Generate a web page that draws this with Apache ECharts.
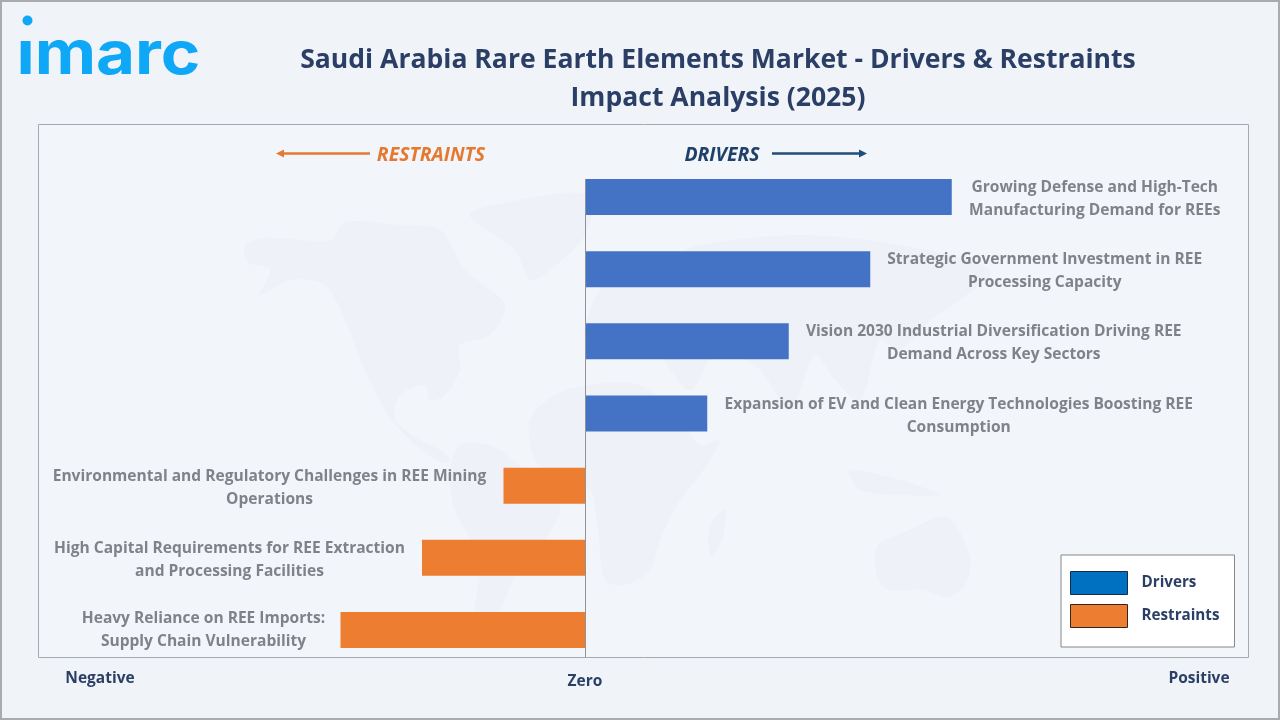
<!DOCTYPE html>
<html><head><meta charset="utf-8">
<style>html,body{margin:0;padding:0;background:#f0f4f9}#c{width:1280px;height:720px}</style>
<script src="https://cdn.jsdelivr.net/npm/echarts@6/dist/echarts.min.js"></script>
</head><body><div id="c"></div>
<script>
const categories = [
  "Growing Defense and High-Tech\nManufacturing Demand for REEs",
  "Strategic Government Investment in REE\nProcessing Capacity",
  "Vision 2030 Industrial Diversification Driving REE\nDemand Across Key Sectors",
  "Expansion of EV and Clean Energy Technologies Boosting REE\nConsumption",
  "Environmental and Regulatory Challenges in REE Mining\nOperations",
  "High Capital Requirements for REE Extraction\nand Processing Facilities",
  "Heavy Reliance on REE Imports:\nSupply Chain Vulnerability"
];
const drivers   = [4.5, 3.5, 2.5, 1.5, null, null, null];
const restraints = [null, null, null, null, -1, -2, -3];
const axisWords = ["Negative", "Zero", "Positive"];
const titleText = "Saudi Arabia Rare Earth Elements Market - Drivers & Restraints\nImpact Analysis (2025)";

const LABEL_FONT = 'Open Sans';
const LABEL_SIZE = 15.55;
const labelNudges = [[0,2],[0,2],[0,2],[0,3],[0,2],[0,2],[2,0]];
const measure = document.createElement('canvas').getContext('2d');
measure.font = '700 ' + LABEL_SIZE + 'px "' + LABEL_FONT + '"';
function labelFor(name, pos, nudge) {
  const lines = name.split('\n');
  const w = Math.ceil(Math.max(...lines.map(l => measure.measureText(l).width)));
  return {
    show: true, position: pos, distance: 17, offset: nudge,
    formatter: lines.map(l => '{a|' + l + '}').join('\n'),
    rich: { a: { width: w, align: 'center', lineHeight: 23, fontFamily: LABEL_FONT, fontWeight: 700, fontSize: LABEL_SIZE, color: '#7f8389' } }
  };
}
const item = (v, i, pos) => v === null ? null : { value: v, label: labelFor(categories[i], pos, labelNudges[i]) };

// faint decorative world-map watermark
const land = [
 [[245,245],[265,238],[330,240],[345,222],[400,225],[440,230],[465,270],[505,305],[490,335],[460,345],[460,370],[445,395],[430,400],[425,385],[400,395],[395,420],[420,440],[440,450],[450,460],[440,462],[410,440],[385,410],[365,370],[345,320],[325,285],[290,280],[260,295],[270,270],[248,262]],
 [[470,215],[520,200],[590,195],[585,235],[550,270],[530,280],[515,250]],
 [[460,445],[490,445],[525,470],[560,505],[545,540],[520,565],[500,610],[480,640],[475,610],[480,560],[455,510],[450,475]],
 [[590,385],[640,385],[680,420],[700,445],[720,440],[700,475],[680,500],[660,540],[650,570],[625,585],[605,580],[598,530],[590,490],[560,480],[535,460],[530,420],[555,395]],
 [[600,290],[620,260],[660,260],[700,245],[800,235],[900,245],[990,270],[960,300],[930,320],[900,350],[880,340],[860,400],[835,380],[815,355],[790,410],[760,370],[720,345],[690,390],[650,345],[610,345],[585,340],[590,310]],
 [[877,547],[910,530],[947,517],[970,557],[965,585],[947,597],[925,590],[883,587]],
 [[713,520],[725,510],[722,540],[712,556],[708,540]],
 [[850,470],[900,480],[940,495],[900,495],[860,490]]
];
const graphics = [
  { type:'rect', shape:{x:1,y:1,width:1278,height:718}, style:{fill:'#f0f4f9',stroke:'#a9a9ae',lineWidth:2}, silent:true },
  { type:'rect', shape:{x:38.5,y:124.5,width:1210,height:533}, style:{fill:'#f2f5fa',stroke:'#a6a9af',lineWidth:1}, silent:true },
  ...land.map(p => ({ type:'polygon', shape:{points:p,smooth:0.3}, style:{fill:'#eef1f7'}, silent:true })),
  // logo
  { type:'circle', shape:{cx:27.5,cy:20.5,r:5}, style:{fill:'#0fa8f7'} },
  { type:'text', x:16.5, y:26, scaleX:1.12, style:{text:'\u0131marc', font:'700 60px Inter', fill:'#0fa8f7'} },
  // direction headers
  { type:'text', x:431, y:155, style:{text:'RESTRAINTS', font:'italic 700 19.4px "Open Sans"', fill:'#e47a32', textAlign:'center', textVerticalAlign:'middle'} },
  { type:'line', shape:{x1:282,y1:153.5,x2:370,y2:153.5}, style:{stroke:'#e47a32',lineWidth:2.4} },
  { type:'polygon', shape:{points:[[276,153.5],[284,149.5],[284,157.5]]}, style:{fill:'#e47a32'} },
  { type:'text', x:722, y:155, style:{text:'DRIVERS', font:'italic 700 19.4px "Open Sans"', fill:'#1f4068', textAlign:'center', textVerticalAlign:'middle'} },
  { type:'line', shape:{x1:772,y1:153.5,x2:860,y2:153.5}, style:{stroke:'#1f4e79',lineWidth:2.4} },
  { type:'polygon', shape:{points:[[867,153.5],[859,149.5],[859,157.5]]}, style:{fill:'#1f4e79'} },
  // axis words
  { type:'text', x:100, y:679, style:{text:axisWords[0], font:'700 15.5px "Open Sans"', fill:'#2b3f66', textAlign:'center', textVerticalAlign:'middle'} },
  { type:'text', x:585, y:682, style:{text:axisWords[1], font:'700 15.5px "Open Sans"', fill:'#2b3f66', textAlign:'center', textVerticalAlign:'middle'} },
  { type:'text', x:1199, y:679, style:{text:axisWords[2], font:'700 15.5px "Open Sans"', fill:'#2b3f66', textAlign:'center', textVerticalAlign:'middle'} }
];

const chart = echarts.init(document.getElementById('c'), null, {renderer:'canvas'});
chart.setOption({
  animation:false,
  backgroundColor:'#f0f4f9',
  title:{ text:titleText, left:713, top:36, textAlign:'center',
    textStyle:{ fontFamily:'Open Sans', fontWeight:700, fontSize:26.55, lineHeight:38, color:'#2b3f66' } },
  legend:{ orient:'vertical', left:1061, top:555, padding:[16,15,19,9], itemWidth:57, itemHeight:23, itemGap:9,
    backgroundColor:'#ffffff', borderColor:'#85878b', borderWidth:1, borderRadius:0,
    textStyle:{ fontFamily:'Open Sans', fontWeight:700, fontSize:15.2, color:'#2b3f66', padding:[0,0,0,9] },
    data:[
      { name:'Drivers', icon:'rect', itemStyle:{color:'#0070c0',borderColor:'#1a2b45',borderWidth:1} },
      { name:'Restraints', icon:'rect', itemStyle:{color:'#ed7d31',borderColor:'#3a2418',borderWidth:1} }
    ] },
  grid:{ left:96, width:1141, top:161, height:505 },
  xAxis:{ type:'value', min:-6, max:8, interval:1, show:false },
  yAxis:{ type:'category', inverse:true, data:categories, show:false },
  graphic:{ elements:graphics },
  series:[
    { name:'Drivers', type:'bar', barWidth:36, barGap:'-100%', itemStyle:{color:'#4472c4'},
      data:drivers.map((v,i)=>item(v,i,'right')),
      markLine:{ silent:true, symbol:'none', label:{show:false}, lineStyle:{color:'#8f9296',width:1,type:'solid'},
        data:[[{xAxis:0,y:179},{xAxis:0,y:657}]] } },
    { name:'Restraints', type:'bar', barWidth:36, barGap:'-100%', itemStyle:{color:'#ed7d31'},
      data:restraints.map((v,i)=>item(v,i,'left')) }
  ]
});
</script></body></html>
